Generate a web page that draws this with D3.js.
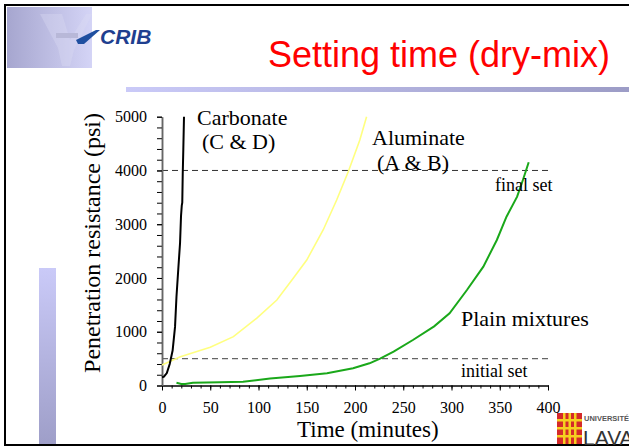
<!DOCTYPE html>
<html><head><meta charset="utf-8">
<script src="https://cdn.jsdelivr.net/npm/d3@7"></script>
<style>
html,body{margin:0;padding:0;background:#fff;}
svg{display:block;}
</style></head>
<body>
<script>
// ---- data ----
const xTicks = [0,50,100,150,200,250,300,350,400];
const yTicks = [0,1000,2000,3000,4000,5000];
const carbonate = [[0,150],[2,165],[5,230],[8,400],[11,650],[13.5,1090],[15,1650],[17,2200],[18.7,2650],[19.7,3150],[20.5,3350],[21,3400],[21.5,3950],[22.1,4400],[22.8,5000]];
const aluminate = [[0,381],[19,536],[50,710],[74,908],[98,1250],[119,1590],[136,1994],[150,2334],[167,2893],[181,3451],[193,3977],[205,4567],[212,5000]];
const plain = [[15,52],[20,30],[24,28],[32,50],[60,60],[84,71],[112,130],[143,177],[171,227],[198,320],[215,413],[226,500],[240,629],[260,846],[282,1100],[298,1343],[316,1776],[333,2210],[347,2707],[357,3140],[368,3512],[374,3823],[380,4152]];
const setLines = [{label:"final set", v:4000}, {label:"initial set", v:500}];

const W=629,H=447;
const svg = d3.select("body").append("svg").attr("width",W).attr("height",H);
const defs = svg.append("defs");
const g1 = defs.append("linearGradient").attr("id","topbar").attr("x1","0").attr("x2","1");
g1.append("stop").attr("offset","0").attr("stop-color","#cacaf8");
g1.append("stop").attr("offset","1").attr("stop-color","#9c9cc6");
const g2 = defs.append("linearGradient").attr("id","sidebar").attr("x1","0").attr("x2","0").attr("y1","0").attr("y2","1");
g2.append("stop").attr("offset","0").attr("stop-color","#cacaf8");
g2.append("stop").attr("offset","1").attr("stop-color","#9e9ec8");
const g3 = defs.append("linearGradient").attr("id","logobg").attr("x1","0").attr("x2","1");
g3.append("stop").attr("offset","0").attr("stop-color","#a6a6cf");
g3.append("stop").attr("offset","1").attr("stop-color","#d4d4f6");

// slide decor
svg.append("rect").attr("x",7).attr("y",7).attr("width",85).attr("height",61).attr("fill","url(#logobg)");
svg.append("path").attr("d","M40,14 L62,14 L70,40 L86,14 L92,14 L74,50 L70,66 L62,66 L58,48 Z").attr("fill","#dcdcf4").attr("opacity",0.35);
svg.append("path").attr("d","M56,33 L78,33 L78,38 L56,38 Z").attr("fill","#b8b8d8");
svg.append("path").attr("d","M76,40 L96,30 L100,30 L84,44 L78,44 Z").attr("fill","#1f4fa0");
svg.append("text").attr("x",100).attr("y",44).attr("font-family","Liberation Sans, Arial, sans-serif")
  .attr("font-weight","bold").attr("font-style","italic").attr("font-size",21).attr("fill","#1f3f8f").text("CRIB");
svg.append("rect").attr("x",126).attr("y",87).attr("width",W-126).attr("height",5).attr("fill","url(#topbar)");
svg.append("rect").attr("x",39).attr("y",268).attr("width",17).attr("height",177).attr("fill","url(#sidebar)");
svg.append("text").attr("x",268).attr("y",67).attr("font-family","Liberation Sans, Arial, sans-serif")
  .attr("font-size",36).attr("fill","#ff0000").text("Setting time (dry-mix)");
// border
svg.append("path").attr("d",`M${W},5 L5,5 L5,445 L${W},445`).attr("fill","none").attr("stroke","#000").attr("stroke-width",2);

// Laval logo
const lg = svg.append("g");
lg.append("rect").attr("x",557).attr("y",413).attr("width",25).attr("height",31).attr("fill","#d42a2a");
[419,427,435].forEach(yy=>lg.append("rect").attr("x",557).attr("y",yy).attr("width",25).attr("height",2.5).attr("fill","#f5d020"));
[563,568.5,574].forEach(xx=>lg.append("rect").attr("x",xx).attr("y",413).attr("width",2.5).attr("height",31).attr("fill","#f5d020"));
lg.append("text").attr("x",584).attr("y",421).attr("font-family","Liberation Sans, Arial, sans-serif").attr("font-weight","bold").attr("font-size",7.5).attr("fill","#555").text("UNIVERSITÉ");
lg.append("text").attr("x",583).attr("y",445).attr("font-family","Liberation Sans, Arial, sans-serif").attr("font-size",21).attr("fill","#333").text("LAVAL");

// chart
const x = d3.scaleLinear().domain([0,400]).range([162,548]);
const y = d3.scaleLinear().domain([0,5000]).range([385.5,116.7]);
const serif = "Liberation Serif, Times New Roman, serif";

// dashed set lines
setLines.forEach((s,i)=>{
  svg.append("line").attr("x1",x(0)).attr("x2",x(400)).attr("y1",y(s.v)).attr("y2",y(s.v))
    .attr("stroke", i===0?"#333":"#666").attr("stroke-width", i===0?1:1.4).attr("stroke-dasharray","6,4");
});

// axes
const fmt = d3.format("d");
const xMinor = svg.append("g").attr("transform",`translate(0,${y(0)})`)
  .call(d3.axisBottom(x).tickValues(d3.range(0,401,10)).tickSize(3).tickSizeOuter(0).tickFormat(""));
const xAxis = svg.append("g").attr("transform",`translate(0,${y(0)})`)
  .call(d3.axisBottom(x).tickValues(xTicks).tickSize(5).tickSizeOuter(0).tickPadding(11).tickFormat(fmt));
const yMinor = svg.append("g").attr("transform",`translate(${x(0)},0)`)
  .call(d3.axisLeft(y).tickValues(d3.range(0,5001,200)).tickSize(5).tickSizeOuter(0).tickFormat(""));
const yAxis = svg.append("g").attr("transform",`translate(${x(0)},0)`)
  .call(d3.axisLeft(y).tickValues(yTicks).tickSize(5).tickSizeOuter(0).tickPadding(10).tickFormat(fmt));
[xMinor,xAxis,yMinor,yAxis].forEach(a=>{
  a.attr("font-family",serif).attr("font-size",16);
  a.selectAll("text").attr("font-family",serif).attr("font-size",16).attr("fill","#000");
  a.selectAll("line").attr("stroke","#000");
  a.select(".domain").attr("stroke","#000");
});
yAxis.select(".domain").attr("stroke","#666").attr("stroke-width",1.5);
yMinor.select(".domain").attr("stroke","#666").attr("stroke-width",1.5);

// lines
const line = d3.line().x(d=>x(d[0])).y(d=>y(d[1]));
svg.append("path").datum(aluminate).attr("d",line).attr("fill","none").attr("stroke","#ffff80").attr("stroke-width",1.6);
svg.append("path").datum(plain).attr("d",line).attr("fill","none").attr("stroke","#1aa81a").attr("stroke-width",2);
svg.append("path").datum(carbonate).attr("d",line).attr("fill","none").attr("stroke","#000").attr("stroke-width",2);

// labels
function t(xp,yp,txt,size){svg.append("text").attr("x",xp).attr("y",yp).attr("font-family",serif).attr("font-size",size).attr("fill","#000").text(txt);}
t(197,125,"Carbonate",22);
t(202,149,"(C & D)",22);
t(372,145,"Aluminate",22);
t(377,170,"(A & B)",22);
t(461,326,"Plain mixtures",22);
t(495,191,"final set",18);
t(461,377,"initial set",18);
t(297,437,"Time (minutes)",23);
svg.append("text").attr("transform","translate(100,243) rotate(-90)").attr("text-anchor","middle")
  .attr("font-family",serif).attr("font-size",24).attr("fill","#000").text("Penetration resistance (psi)");
</script>
</body></html>
